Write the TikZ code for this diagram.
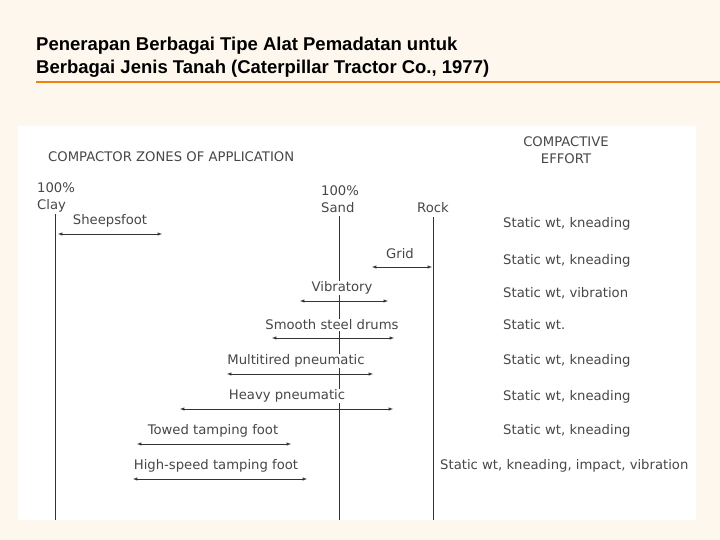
\documentclass[tikz,border=0pt]{standalone}
\usepackage{fontspec}
\setmainfont{Liberation Sans}
\newfontfamily\dv{DejaVu Sans}
\begin{document}
\begin{tikzpicture}[x=1pt,y=-1pt,
  lbl/.style={text=black!72,font=\dv\fontsize{13.2}{17}\selectfont,inner sep=0pt},
  eff/.style={lbl,anchor=west},
  zone/.style={draw=black!80,line width=0.6pt},
  rng/.style={draw=black!80,line width=0.5pt,<->,>=latex}]
\fill[yellow!8!orange!6!white] (0,0) rectangle (720,540);
\useasboundingbox (0,0) rectangle (720,540);
\node[anchor=west,inner sep=0pt,font=\bfseries\fontsize{18.5}{22}\selectfont] (t1) at (36,46) {Penerapan Berbagai Tipe Alat Pemadatan untuk};
\node[anchor=west,inner sep=0pt,font=\bfseries\fontsize{18.5}{22}\selectfont] (t2) at (36,69) {Berbagai Jenis Tanah (Caterpillar Tractor Co., 1977)};
\draw[orange!80!brown,line width=1.2pt] (36,82) -- (720,82);
\fill[white] (18,126) rectangle (696,520);
\node[lbl,anchor=west] (hz) at (48,157) {COMPACTOR ZONES OF APPLICATION};
\node[lbl,align=center] (he) at (566,150) {COMPACTIVE\\EFFORT};
\node[lbl,anchor=west,align=left] (cl) at (37,197) {100\%\\Clay};
\node[lbl,anchor=west,align=left] (sa) at (321,199) {100\%\\Sand};
\node[lbl,anchor=west] (ro) at (417,208) {Rock};
\coordinate (c1) at (55,214); \coordinate (c2) at (55,520);
\coordinate (s1) at (339,216); \coordinate (s2) at (339,520);
\coordinate (r1) at (433,217); \coordinate (r2) at (433,520);
\draw[zone] (c1) -- (c2); \draw[zone] (s1) -- (s2); \draw[zone] (r1) -- (r2);
\foreach \n/\a/\b/\y/\cx/\t in {a/58/162/234/110/Sheepsfoot, b/372/432/267/400/Grid, c/300/388/301/342/Vibratory, d/272/394/338/332/Smooth steel drums, e/227/373/374/296/Multitired pneumatic, f/180/393/409/287/Heavy pneumatic, g/137/291/444/213/Towed tamping foot, h/133/307/479/216/High-speed tamping foot}{
  \coordinate (\n L) at (\a,\y); \coordinate (\n R) at (\b,\y);
  \draw[rng] (\n L) -- (\n R);
  \node[lbl,fill=white,inner sep=1pt] (\n T) at (\cx,\y-13) {\t};
}
\foreach \n/\y/\t in {1/224/{Static wt, kneading},2/261/{Static wt, kneading},3/293/{Static wt, vibration},4/325/{Static wt.},5/361/{Static wt, kneading},6/397/{Static wt, kneading},7/431/{Static wt, kneading}}{
  \node[eff] (e\n) at (503,\y) {\t};
}
\begin{scope}
\clip (18,126) rectangle (694,520);
\node[eff] (e8) at (440,466) {Static wt, kneading, impact, vibration};
\end{scope}
\end{tikzpicture}
\end{document}
